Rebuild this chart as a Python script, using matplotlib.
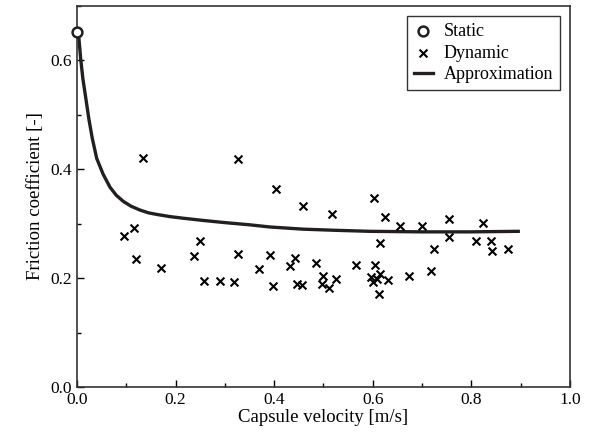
import numpy as np
import matplotlib.pyplot as plt
from matplotlib.ticker import MultipleLocator

plt.rcParams['font.family'] = ['Liberation Serif', 'DejaVu Serif']

# static friction point
static_v = [0.0]
static_mu = [0.653]

# dynamic measurements
dyn_v = [0.134, 0.326, 0.095, 0.116, 0.120, 0.171, 0.249, 0.238, 0.258, 0.291,
         0.319, 0.327, 0.369, 0.391, 0.404, 0.459, 0.517, 0.602, 0.625, 0.655,
         0.699, 0.755, 0.755, 0.615, 0.725, 0.442, 0.433, 0.485, 0.566, 0.605,
         0.718, 0.673, 0.397, 0.446, 0.456, 0.498, 0.496, 0.512, 0.525, 0.596,
         0.601, 0.609, 0.615, 0.631, 0.613, 0.823, 0.809, 0.839, 0.842, 0.875]
dyn_mu = [0.421, 0.418, 0.278, 0.292, 0.235, 0.218, 0.268, 0.241, 0.195, 0.195,
          0.192, 0.244, 0.217, 0.242, 0.364, 0.333, 0.317, 0.347, 0.312, 0.296,
          0.296, 0.308, 0.276, 0.264, 0.253, 0.237, 0.223, 0.228, 0.225, 0.224,
          0.213, 0.204, 0.186, 0.190, 0.187, 0.204, 0.190, 0.181, 0.199, 0.202,
          0.193, 0.199, 0.207, 0.196, 0.170, 0.302, 0.268, 0.268, 0.250, 0.253]

# approximation curve
appr_v = [0.0, 0.004, 0.0075, 0.012, 0.018, 0.024, 0.031, 0.040, 0.053, 0.067,
          0.080, 0.094, 0.110, 0.128, 0.145, 0.162, 0.189, 0.216, 0.256, 0.300,
          0.350, 0.391, 0.458, 0.520, 0.594, 0.700, 0.797, 0.895]
appr_mu = [0.653, 0.640, 0.603, 0.566, 0.530, 0.493, 0.457, 0.420, 0.391, 0.367,
           0.352, 0.341, 0.332, 0.325, 0.320, 0.317, 0.313, 0.310, 0.306, 0.302,
           0.298, 0.294, 0.290, 0.288, 0.286, 0.285, 0.285, 0.286]

dark = '#231f20'

fig = plt.figure(figsize=(5.94, 4.44), dpi=100)
ax = fig.add_axes([0.1296, 0.1284, 0.83, 0.8581])

ax.plot(appr_v, appr_mu, color=dark, lw=2.4, solid_joinstyle='round', label='Approximation', zorder=2)
ax.scatter(dyn_v, dyn_mu, marker='x', s=32, color='black', linewidths=1.5, label='Dynamic', zorder=3)
ax.scatter(static_v, static_mu, marker='o', s=50, facecolors='white', edgecolors=dark,
           linewidths=1.8, label='Static', zorder=4, clip_on=False)

ax.set_xlim(0, 1.0)
ax.set_ylim(0, 0.7)
ax.xaxis.set_major_locator(MultipleLocator(0.2))
ax.xaxis.set_minor_locator(MultipleLocator(0.1))
ax.yaxis.set_major_locator(MultipleLocator(0.2))
ax.yaxis.set_minor_locator(MultipleLocator(0.1))
ax.tick_params(which='both', direction='in', top=False, right=False, labelsize=12.5)
ax.tick_params(which='major', length=5, width=1)
ax.tick_params(which='minor', length=3, width=1)
ax.xaxis.set_major_formatter(plt.FuncFormatter(lambda v, p: f'{v:.1f}'))
ax.yaxis.set_major_formatter(plt.FuncFormatter(lambda v, p: f'{v:.1f}'))
for s in ax.spines.values():
    s.set_color('#333333')
    s.set_linewidth(1.2)

ax.set_xlabel('Capsule velocity [m/s]', fontsize=13.5, labelpad=1)
ax.set_ylabel('Friction coefficient [-]', fontsize=13.5, labelpad=5)

h, l = ax.get_legend_handles_labels()
order = [2, 1, 0]
leg = ax.legend([h[i] for i in order], [l[i] for i in order], loc='upper right',
                fontsize=13, frameon=True, fancybox=False, edgecolor='black',
                borderaxespad=0.55, handlelength=1.0, handletextpad=0.6,
                labelspacing=0.25, borderpad=0.4)
leg.get_frame().set_linewidth(1.0)

fig.savefig('out.png', dpi=100)
